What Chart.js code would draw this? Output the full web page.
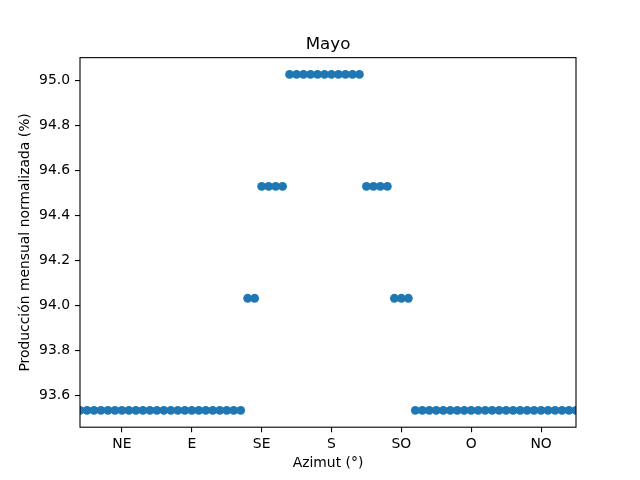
<!DOCTYPE html>
<html>
<head>
<meta charset="utf-8">
<script src="https://cdn.jsdelivr.net/npm/chart.js@4"></script>
<style>
  html, body { margin: 0; padding: 0; background: #fff; }
  #wrap { width: 640px; height: 480px; }
</style>
</head>
<body>
<div id="wrap"><canvas id="grafico" width="640" height="480"></canvas></div>
<script>
// Azimut (grados) de cada punto
const azimut = [
  18, 22.5, 27, 31.5, 36, 40.5, 45, 49.5, 54, 58.5, 63, 67.5,
  72, 76.5, 81, 85.5, 90, 94.5, 99, 103.5, 108, 112.5, 117, 121.5,
  126, 130.5,
  135, 139.5, 144, 148.5,
  153, 157.5, 162, 166.5, 171, 175.5, 180, 184.5, 189, 193.5, 198,
  202.5, 207, 211.5, 216,
  220.5, 225, 229.5,
  234, 238.5, 243, 247.5, 252, 256.5, 261, 265.5, 270, 274.5, 279, 283.5,
  288, 292.5, 297, 301.5, 306, 310.5, 315, 319.5, 324, 328.5, 333, 337.5
];

// Produccion mensual normalizada (%)
const produccion = [
  93.535, 93.535, 93.535, 93.535, 93.535, 93.535, 93.535, 93.535, 93.535, 93.535, 93.535, 93.535,
  93.535, 93.535, 93.535, 93.535, 93.535, 93.535, 93.535, 93.535, 93.535, 93.535, 93.535, 93.535,
  94.033, 94.033,
  94.53, 94.53, 94.53, 94.53,
  95.027, 95.027, 95.027, 95.027, 95.027, 95.027, 95.027, 95.027, 95.027, 95.027, 95.027,
  94.53, 94.53, 94.53, 94.53,
  94.033, 94.033, 94.033,
  93.535, 93.535, 93.535, 93.535, 93.535, 93.535, 93.535, 93.535, 93.535, 93.535, 93.535, 93.535,
  93.535, 93.535, 93.535, 93.535, 93.535, 93.535, 93.535, 93.535, 93.535, 93.535, 93.535, 93.535
];

// Ticks del eje X (azimut) y sus etiquetas
const ticksAzimut = [45, 90, 135, 180, 225, 270, 315];
const etiquetasAzimut = ["NE", "E", "SE", "S", "SO", "O", "NO"];

// Ticks del eje Y
const ticksProduccion = [93.6, 93.8, 94.0, 94.2, 94.4, 94.6, 94.8, 95.0];

const fuente = "'DejaVu Sans', sans-serif";
Chart.defaults.color = "#000";
Chart.defaults.font.family = fuente;
Chart.defaults.font.size = 13.9;

// Marco completo alrededor del area (spines de arriba y derecha incluidos)
const marco = {
  id: "marco",
  afterDatasetsDraw(chart) {
    const { ctx, chartArea: a } = chart;
    ctx.save();
    ctx.strokeStyle = "#000";
    ctx.lineWidth = 1.1;
    ctx.strokeRect(a.left, a.top, a.right - a.left, a.bottom - a.top);
    ctx.restore();
  }
};

const puntos = azimut.map((az, i) => ({ x: az, y: produccion[i] }));

new Chart(document.getElementById("grafico"), {
  type: "scatter",
  data: {
    datasets: [{
      data: puntos,
      backgroundColor: "#1f77b4",
      borderWidth: 0,
      pointRadius: 4.4,
      pointHoverRadius: 4.4,
      clip: 0
    }]
  },
  options: {
    responsive: false,
    animation: false,
    events: [],
    layout: { padding: { left: 0, right: 64, top: 0, bottom: 0 } },
    plugins: {
      legend: { display: false },
      tooltip: { enabled: false },
      title: {
        display: true,
        text: "Mayo",
        fullSize: false,
        color: "#000",
        font: { family: fuente, size: 16.7, weight: "normal", lineHeight: 1.2 },
        padding: { top: 35, bottom: 2.6 }
      }
    },
    scales: {
      x: {
        type: "linear",
        min: 18,
        max: 337.5,
        afterBuildTicks: s => { s.ticks = ticksAzimut.map(v => ({ value: v })); },
        afterFit: s => { s.height = 52.8; },
        ticks: {
          autoSkip: false,
          maxRotation: 0,
          padding: 4,
          callback: (v) => etiquetasAzimut[ticksAzimut.indexOf(v)]
        },
        grid: { display: true, drawOnChartArea: false, drawTicks: true, tickLength: 5, color: "#000", lineWidth: 1.1 },
        border: { display: false },
        title: {
          display: true,
          text: "Azimut (°)",
          font: { family: fuente, size: 13.9, lineHeight: 1.2 },
          padding: { top: 0, bottom: 8 }
        }
      },
      y: {
        type: "linear",
        min: 93.4604,
        max: 95.1016,
        afterBuildTicks: s => { s.ticks = ticksProduccion.map(v => ({ value: v })); },
        afterFit: s => { s.width = 80; },
        ticks: {
          autoSkip: false,
          padding: 5,
          callback: (v) => v.toFixed(1)
        },
        grid: { display: true, drawOnChartArea: false, drawTicks: true, tickLength: 5, color: "#000", lineWidth: 1.1 },
        border: { display: false },
        title: {
          display: true,
          text: "Producción mensual normalizada (%)",
          font: { family: fuente, size: 13.9, lineHeight: 1.2 },
          padding: { top: 16.7, bottom: 0 }
        }
      }
    }
  },
  plugins: [marco]
});
</script>
</body>
</html>
